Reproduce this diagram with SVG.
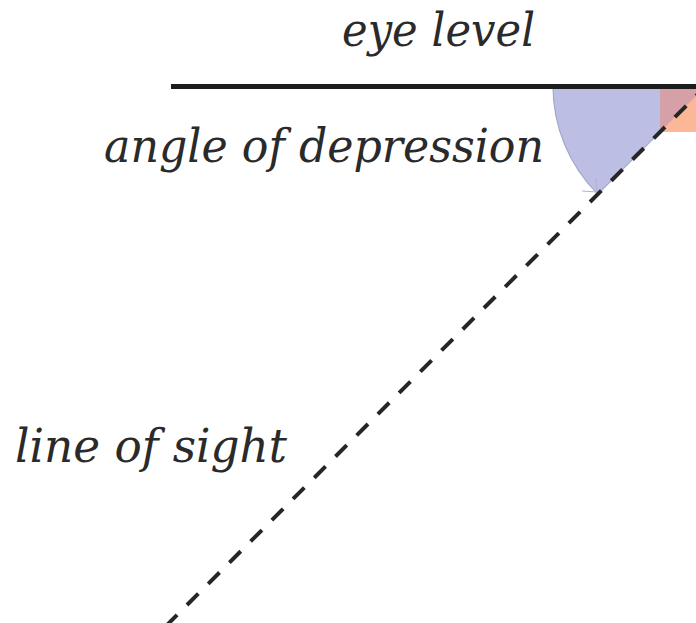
<svg xmlns="http://www.w3.org/2000/svg" width="696" height="623" viewBox="0 0 696 623">
<style>
.lbl{font-family:"DejaVu Serif",serif;font-style:italic;font-size:46px;fill:#2a2a2a}
</style>
<rect width="696" height="623" fill="#ffffff"/>
<g id="angle-depression-sector">
<path d="M706,86 L553,86 A153,153 0 0 0 597.8,194.2 Z" fill="#bcbfe3" stroke="#a3a7cc" stroke-width="1.2"/>
<polygon points="660,87 696,87 696,96 660,132" fill="#d6a0a8"/>
<polygon points="660,132 696,96 696,132" fill="#fcb797"/>
<path d="M582,191 L597,192 M596,178 L597,192" fill="none" stroke="#b0b4cf" stroke-width="1.2"/>
</g>
<g id="connectors">
<line id="eye-level-line" x1="171" y1="86.5" x2="696" y2="86.5" stroke="#1c1c1c" stroke-width="5"/>
<line id="line-of-sight" x1="706" y1="86" x2="165" y2="627" stroke="#262626" stroke-width="4" stroke-dasharray="16 14" stroke-dashoffset="2"/>
</g>
<g id="eye-level"><text class="lbl" x="342" y="46" textLength="193" lengthAdjust="spacingAndGlyphs">eye level</text></g>
<g id="angle-of-depression"><text class="lbl" x="104" y="162" textLength="440" lengthAdjust="spacingAndGlyphs">angle of depression</text></g>
<g id="line-of-sight-label"><text class="lbl" x="15" y="462" textLength="272" lengthAdjust="spacingAndGlyphs">line of sight</text></g>
</svg>
